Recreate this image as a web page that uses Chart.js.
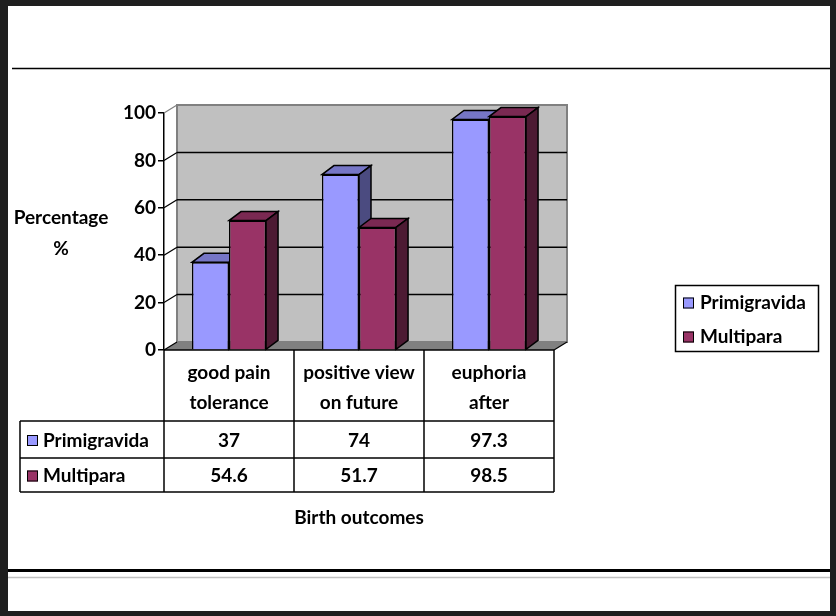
<!DOCTYPE html>
<html>
<head>
<meta charset="utf-8">
<style>
  html, body { margin: 0; padding: 0; background: #fff; overflow: hidden; }
  canvas { display: block; }
</style>
<script src="https://cdn.jsdelivr.net/npm/chart.js@4.4.0/dist/chart.umd.min.js"></script>
</head>
<body>
<canvas id="c" width="836" height="616"></canvas>
<script>
// data
const categories = [['good pain', 'tolerance'], ['positive view', 'on future'], ['euphoria', 'after']];
const seriesNames = ['Primigravida', 'Multipara'];
const primigravida = [37, 74, 97.3];
const multipara = [54.6, 51.7, 98.5];
const yTicks = [0, 20, 40, 60, 80, 100];
const xTitle = 'Birth outcomes';
const yTitle = ['Percentage', '%'];

/* ── looks ── */
const FRONT = ['#9999FF', '#993366'];
const TOP = ['#7676C6', '#7A2952'];
const SIDE = ['#4B4B80', '#4D1A33'];
const FONT = 'bold 19px Lato, "Open Sans", sans-serif';
const DX = 12, DY = -9;      // bar depth
const WX = 13, WY = -8;      // wall depth
const W = 836, H = 616;

function poly(ctx, pts, fill, stroke, lw) {
  ctx.beginPath();
  ctx.moveTo(pts[0][0], pts[0][1]);
  for (let i = 1; i < pts.length; i++) ctx.lineTo(pts[i][0], pts[i][1]);
  ctx.closePath();
  if (fill) { ctx.fillStyle = fill; ctx.fill(); }
  if (stroke) { ctx.strokeStyle = stroke; ctx.lineWidth = lw || 1; ctx.stroke(); }
}
function line(ctx, x0, y0, x1, y1, color, lw) {
  ctx.beginPath(); ctx.moveTo(x0, y0); ctx.lineTo(x1, y1);
  ctx.strokeStyle = color; ctx.lineWidth = lw; ctx.stroke();
}
function box3d(ctx, p, k) {
  const x0 = p.x - p.width / 2, x1 = p.x + p.width / 2;
  poly(ctx, [[x0, p.y], [x1, p.y], [x1 + DX, p.y + DY], [x0 + DX, p.y + DY]], TOP[k], '#000', 1.5);
  poly(ctx, [[x1, p.y], [x1 + DX, p.y + DY], [x1 + DX, p.base + DY], [x1, p.base]], SIDE[k], '#000', 1.5);
}

const excel3d = {
  id: 'excel3d',
  beforeDraw(chart) {
    const ctx = chart.ctx;
    ctx.save();
    ctx.fillStyle = '#fff'; ctx.fillRect(0, 0, W, H);
    // frame
    ctx.fillStyle = '#1f1f1f';
    ctx.fillRect(0, 0, W, 6); ctx.fillRect(0, 0, 8, H);
    ctx.fillRect(W - 6, 0, 6, H); ctx.fillRect(0, H - 5, W, 5);
    line(ctx, 12, 68.5, W - 6, 68.5, '#000', 1.5);
    line(ctx, 8, 570.5, W - 6, 570.5, '#000', 3);
    line(ctx, 8, 577.5, W - 6, 577.5, '#c0c0c0', 1.5);
    ctx.restore();
  },
  beforeDatasetsDraw(chart) {
    const ctx = chart.ctx, a = chart.chartArea, ys = chart.scales.y;
    const yTop = ys.getPixelForValue(yTicks[yTicks.length - 1]);
    ctx.save();
    // back wall
    poly(ctx, [[a.left + WX, yTop + WY], [a.right + WX, yTop + WY], [a.right + WX, a.bottom + WY], [a.left + WX, a.bottom + WY]], '#c0c0c0', '#808080', 2);
    // floor
    poly(ctx, [[a.left, a.bottom], [a.right, a.bottom], [a.right + WX, a.bottom + WY], [a.left + WX, a.bottom + WY]], '#808080', null);
    // gridlines on wall + side diagonals
    yTicks.forEach(function (t, i) {
      const y = ys.getPixelForValue(t);
      if (i > 0 && i < yTicks.length - 1) line(ctx, a.left + WX, y + WY, a.right + WX, y + WY, '#000', 1.5);
      line(ctx, a.left, y, a.left + WX, y + WY, i === yTicks.length - 1 ? '#808080' : '#000', 1.2);
    });
    line(ctx, a.left, a.bottom, a.right, a.bottom, '#000', 1.5);
    line(ctx, a.right, a.bottom, a.right + WX, a.bottom + WY, '#000', 1.2);
    ctx.restore();
  },
  afterDatasetsDraw(chart) {
    const ctx = chart.ctx;
    const m0 = chart.getDatasetMeta(0), m1 = chart.getDatasetMeta(1);
    const keys = ['x', 'y', 'base', 'width'];
    m0.data.forEach(function (b0, i) {
      const p0 = b0.getProps(keys, true), p1 = m1.data[i].getProps(keys, true);
      // left bar faces hidden behind the right bar's front
      ctx.save();
      ctx.beginPath();
      ctx.rect(0, 0, W, H);
      ctx.rect(p1.x - p1.width / 2, p1.y, p1.width, p1.base - p1.y);
      ctx.clip('evenodd');
      box3d(ctx, p0, 0);
      ctx.restore();
      ctx.save();
      box3d(ctx, p1, 1);
      ctx.restore();
    });
  },
  afterDraw(chart) {
    const ctx = chart.ctx, a = chart.chartArea;
    const series = [primigravida, multipara];
    const catW = (a.right - a.left) / categories.length;
    const tLeft = 20, rowY = [421, 458, 492];
    ctx.save();
    ctx.font = FONT; ctx.fillStyle = '#000';
    ctx.textAlign = 'center'; ctx.textBaseline = 'middle';

    // table grid
    for (let i = 0; i <= categories.length; i++) line(ctx, a.left + i * catW, a.bottom, a.left + i * catW, rowY[2], '#000', 1.5);
    rowY.forEach(function (y) { line(ctx, tLeft, y, a.right, y, '#000', 1.5); });
    line(ctx, tLeft, rowY[0], tLeft, rowY[2], '#000', 1.5);

    categories.forEach(function (c, i) {
      const cx = a.left + (i + 0.5) * catW;
      ctx.fillText(c[0], cx, 373);
      ctx.fillText(c[1], cx, 403);
      series.forEach(function (s, k) {
        ctx.fillText(String(s[i]), cx, (rowY[k] + rowY[k + 1]) / 2 + 1);
      });
    });
    ctx.textAlign = 'left';
    seriesNames.forEach(function (n, k) {
      const cy = (rowY[k] + rowY[k + 1]) / 2 + 1;
      ctx.fillStyle = FRONT[k]; ctx.fillRect(27, cy - 5.5, 11, 11);
      ctx.strokeStyle = '#000'; ctx.lineWidth = 1; ctx.strokeRect(27.5, cy - 5, 10, 10);
      ctx.fillStyle = '#000'; ctx.fillText(n, 43, cy);
    });

    // legend
    ctx.strokeStyle = '#000'; ctx.lineWidth = 1.5;
    ctx.strokeRect(675.5, 285.5, 143, 66);
    seriesNames.forEach(function (n, k) {
      const cy = 303 + k * 34;
      ctx.fillStyle = FRONT[k]; ctx.fillRect(683, cy - 5.5, 11, 11);
      ctx.strokeStyle = '#000'; ctx.lineWidth = 1; ctx.strokeRect(683.5, cy - 5, 10, 10);
      ctx.fillStyle = '#000'; ctx.fillText(n, 700, cy);
    });

    // titles
    ctx.textAlign = 'center';
    ctx.fillText(xTitle, (a.left + a.right) / 2, 518);
    ctx.fillText(yTitle[0], 61, 218);
    ctx.fillText(yTitle[1], 61, 249);
    ctx.restore();
  }
};

new Chart(document.getElementById('c'), {
  type: 'bar',
  data: {
    labels: categories.map(function (c) { return c.join(' '); }),
    datasets: [
      { label: seriesNames[0], data: primigravida, backgroundColor: FRONT[0], borderColor: '#000', borderWidth: 1.5, barPercentage: 1, categoryPercentage: 0.57 },
      { label: seriesNames[1], data: multipara, backgroundColor: FRONT[1], borderColor: '#000', borderWidth: 1.5, barPercentage: 1, categoryPercentage: 0.57 }
    ]
  },
  options: {
    responsive: false,
    devicePixelRatio: 1,
    animation: false,
    layout: { padding: { left: 124, top: 113, right: 282, bottom: 266 } },
    plugins: { legend: { display: false }, tooltip: { enabled: false } },
    scales: {
      x: { display: false },
      y: {
        min: 0, max: 100,
        afterFit: function (s) { s.width = 40; },
        afterBuildTicks: function (s) { s.ticks = yTicks.map(function (v) { return { value: v }; }); },
        border: { display: true, color: '#000', width: 1.5 },
        grid: { drawOnChartArea: false, drawTicks: true, tickLength: 6, color: '#000', lineWidth: 1.5 },
        ticks: { color: '#000', padding: 2, font: { family: 'Lato, "Open Sans", sans-serif', size: 19, weight: 'bold' } }
      }
    }
  },
  plugins: [excel3d]
});
</script>
</body>
</html>
